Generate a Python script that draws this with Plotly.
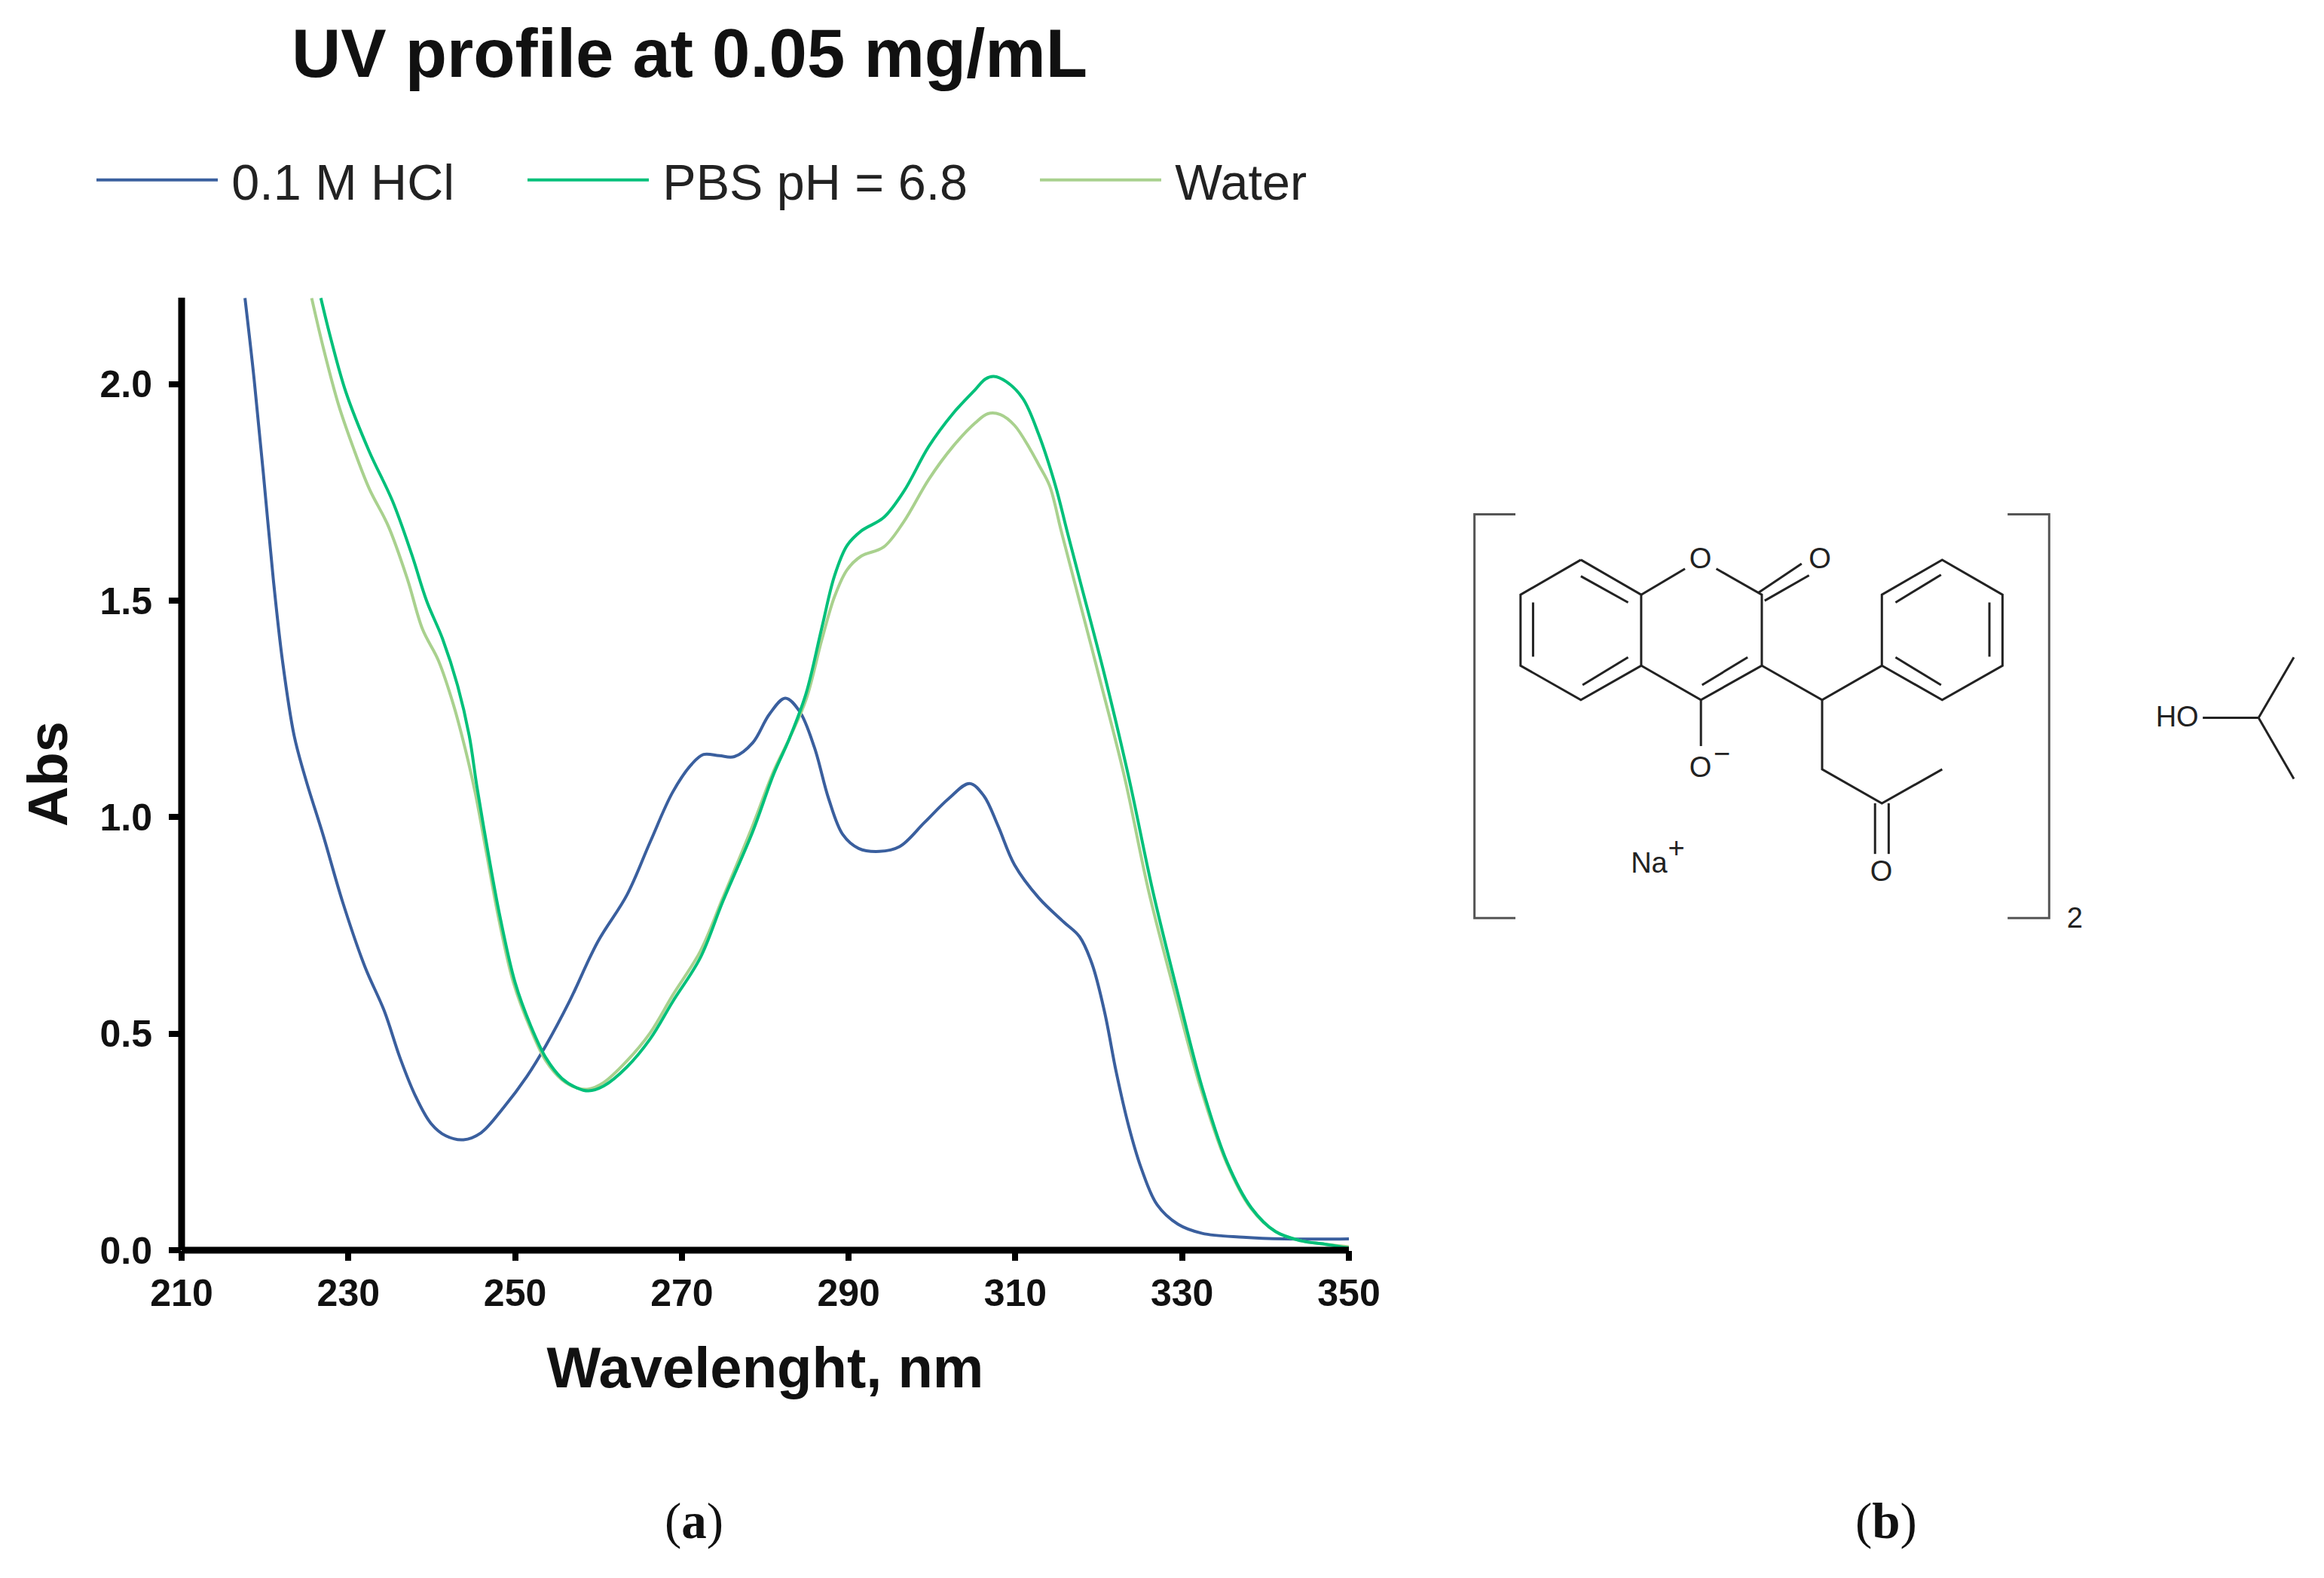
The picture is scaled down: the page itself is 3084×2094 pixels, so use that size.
import plotly.graph_objects as go

# ---------- spectra ----------
hcl_nm = [217.6,218.7,219.8,221.0,222.1,223.5,224.9,227.0,229.3,232.0,234.3,236.2,238.0,239.9,241.7,243.8,245.9,248.6,251.4,253.7,256.5,259.9,263.4,266.2,268.9,271.2,272.6,274.5,276.3,278.5,280.5,282.4,284.1,285.9,287.6,289.3,291.2,293.7,296.1,299.1,302.0,304.5,306.2,307.9,309.9,312.8,315.8,317.7,319.2,320.7,322.1,323.6,325.1,327.0,329.5,332.4,337.3,342.2,350.0]
hcl_abs = [2.199,2.011,1.795,1.549,1.361,1.188,1.087,0.957,0.805,0.654,0.553,0.444,0.358,0.293,0.264,0.255,0.271,0.329,0.401,0.473,0.574,0.712,0.820,0.943,1.058,1.123,1.145,1.142,1.140,1.172,1.238,1.275,1.245,1.161,1.043,0.960,0.928,0.921,0.932,0.988,1.043,1.078,1.050,0.981,0.890,0.814,0.758,0.724,0.661,0.550,0.411,0.286,0.189,0.105,0.060,0.039,0.030,0.026,0.026]

pbs_nm = [226.7,227.9,229.7,232.5,235.3,237.6,239.4,241.3,243.1,244.5,245.4,246.8,248.2,250.0,251.9,253.7,255.6,257.4,258.8,260.6,263.4,266.2,268.9,272.2,274.9,278.5,281.0,282.9,284.9,286.8,288.3,289.8,291.5,294.2,296.6,299.6,302.5,305.2,306.4,307.4,308.9,310.9,312.8,314.8,316.2,317.7,320.7,323.6,326.5,329.5,332.4,335.4,338.3,341.2,344.2,347.1,350.0]
pbs_abs = [2.199,2.105,1.982,1.845,1.730,1.607,1.499,1.412,1.304,1.188,1.073,0.914,0.769,0.618,0.517,0.444,0.397,0.375,0.368,0.379,0.423,0.488,0.574,0.675,0.805,0.967,1.099,1.182,1.286,1.439,1.557,1.627,1.661,1.692,1.752,1.856,1.932,1.988,2.012,2.018,2.006,1.967,1.884,1.766,1.661,1.550,1.328,1.092,0.828,0.592,0.376,0.203,0.098,0.043,0.022,0.014,0.005]

water_nm = [225.6,227.0,228.8,230.6,232.5,234.8,237.1,238.9,240.8,242.6,244.0,245.2,246.6,248.0,249.8,251.9,253.7,255.6,257.4,258.8,260.6,263.4,266.2,268.9,272.2,274.9,278.5,281.0,282.9,284.9,286.8,288.3,289.8,291.5,294.2,296.6,299.6,302.5,305.2,306.7,308.2,309.9,311.8,312.8,314.1,315.5,317.0,320.0,323.1,326.0,329.15,332.2,335.3,338.2,341.2,344.2,347.1,350.0]
water_abs = [2.199,2.084,1.954,1.853,1.759,1.672,1.549,1.434,1.362,1.260,1.159,1.058,0.914,0.769,0.618,0.509,0.437,0.394,0.375,0.372,0.387,0.437,0.502,0.589,0.690,0.813,0.981,1.106,1.182,1.272,1.411,1.509,1.571,1.603,1.624,1.682,1.780,1.856,1.911,1.932,1.930,1.905,1.849,1.814,1.766,1.661,1.550,1.328,1.092,0.828,0.592,0.376,0.203,0.098,0.043,0.022,0.014,0.008]

x_ticks = [210,230,250,270,290,310,330,350]
y_ticks = [0.0,0.5,1.0,1.5,2.0]

# ---------- panel (b) structure, page pixels ----------
def P(x, y):
    return (1900 + x * 0.7551, 650 + y * 0.3954)

bonds = [
    [(262,235),(368,352),(368,590),(262,705),(156,590),(156,352),(262,235)],
    [(262,290),(345,378)], [(178,378),(178,560)], [(265,655),(345,562)],
    [(368,352),(445,265)], [(500,265),(580,352),(580,590),(473,705),(368,590)],
    [(475,655),(555,562)],
    [(574,345),(650,248)], [(585,372),(663,287)],
    [(580,590),(686,705),(791,590),(791,352),(897,235),(1003,352),(1003,590),(897,705),(791,590)],
    [(815,378),(895,285)], [(980,378),(980,560)], [(815,562),(895,655)],
    [(686,705),(686,938),(791,1052),(897,938)],
    [(779,1052),(779,1222)], [(803,1052),(803,1222)],
    [(473,705),(473,860)],
    [(1355,765),(1453,765),(1515,562)], [(1453,765),(1515,970)],
]
brackets = [
    [(147,82),(75,82),(75,1437),(147,1437)],
    [(1012,82),(1085,82),(1085,1437),(1012,1437)],
]
atom_labels = ["O","O","O","\u2212","O","Na","+","2","HO"]
atom_x = [472,682,472,510,790,382,430,1130,1310]
atom_y = [240,240,940,895,1288,1260,1210,1445,770]

def flatten(paths):
    xs, ys = [], []
    for path in paths:
        for a, b in path:
            px, py = P(a, b)
            xs.append(px); ys.append(py)
        xs.append(None); ys.append(None)
    return xs, ys

fig = go.Figure()
C_HCL, C_PBS, C_WATER = "#3A5F9E", "#00C07A", "#A9D18E"
LINE_W = 4
SPL = dict(width=LINE_W, shape="spline", smoothing=1.0)
fig.add_trace(go.Scatter(x=hcl_nm, y=hcl_abs, mode="lines", name="\u20090.1 M HCl", legend="legend",
                         line=dict(color=C_HCL, **SPL)))
fig.add_trace(go.Scatter(x=water_nm, y=water_abs, mode="lines", name="\u2009Water", legend="legend3",
                         line=dict(color=C_WATER, **SPL)))
fig.add_trace(go.Scatter(x=pbs_nm, y=pbs_abs, mode="lines", name="\u2009PBS pH = 6.8", legend="legend2",
                         line=dict(color=C_PBS, **SPL)))

bx, by = flatten(bonds)
fig.add_trace(go.Scatter(x=bx, y=by, xaxis="x2", yaxis="y2", mode="lines", showlegend=False, hoverinfo="skip",
                         line=dict(color="#222222", width=3)))
kx, ky = flatten(brackets)
fig.add_trace(go.Scatter(x=kx, y=ky, xaxis="x2", yaxis="y2", mode="lines", showlegend=False, hoverinfo="skip",
                         line=dict(color="#555555", width=3)))
ax_pts = [P(a, b) for a, b in zip(atom_x, atom_y)]
fig.add_trace(go.Scatter(x=[p[0] for p in ax_pts], y=[p[1] for p in ax_pts], xaxis="x2", yaxis="y2",
                         mode="text", text=atom_labels, showlegend=False, hoverinfo="skip",
                         textposition="middle center",
                         textfont=dict(family="Liberation Sans", size=38, color="#222222")))

W, H = 3084, 2094
L, R, T, B = 241, 1790, 395, 1659
AX = dict(family="Liberation Sans", size=50, color="#111111", weight="bold")

legend_common = dict(orientation="h", yanchor="middle", y=1 - 239 / H, xanchor="left", itemwidth=161,
                     bgcolor="rgba(0,0,0,0)", font=dict(family="Liberation Sans", size=66.5, color="#222222"),
                     itemclick=False, itemdoubleclick=False)

fig.update_layout(
    width=W, height=H, autosize=False, margin=dict(l=0, r=0, t=0, b=0),
    paper_bgcolor="white", plot_bgcolor="rgba(0,0,0,0)",
    title=dict(text="<b>UV profile at 0.05 mg/mL</b>", x=915 / W, xanchor="center", xref="paper",
               y=1 - 70 / H, yanchor="middle", yref="paper",
               font=dict(family="Liberation Sans", size=90.5, color="#111111")),
    legend=dict(x=(127 - 4) / W, **legend_common),
    legend2=dict(x=(699 - 4) / W, **legend_common),
    legend3=dict(x=(1379 - 4) / W, **legend_common),
    xaxis=dict(domain=[L / W, R / W], range=[210, 350], tickvals=x_ticks, ticks="outside", ticklen=13, tickwidth=8,
               tickcolor="black", showline=False, showgrid=False, zeroline=False, tickfont=AX, ticklabelstandoff=0,
               automargin=False,
               title=dict(text="<b>Wavelenght, nm</b>", standoff=44,
                          font=dict(family="Liberation Sans", size=76, color="#111111"))),
    yaxis=dict(domain=[1 - B / H, 1 - T / H], range=[0, 2.2], tickvals=y_ticks, tickformat=".1f", ticks="outside",
               ticklen=16, tickwidth=8, tickcolor="black", showline=False, showgrid=False, zeroline=False,
               tickfont=AX, ticklabelstandoff=12, automargin=False,
               title=dict(text="<b>Abs</b>", standoff=18,
                          font=dict(family="Liberation Sans", size=74, color="#111111"))),
    xaxis2=dict(domain=[0, 1], range=[0, W], visible=False, anchor="y2", fixedrange=True, automargin=False),
    yaxis2=dict(domain=[0, 1], range=[H, 0], visible=False, anchor="x2", fixedrange=True, automargin=False),
    shapes=[
        dict(type="line", xref="x domain", yref="y domain", x0=0, x1=0, y0=0, y1=1,
             line=dict(color="black", width=9)),
        dict(type="line", xref="x domain", yref="y domain", x0=0, x1=1, y0=0, y1=0,
             line=dict(color="black", width=9)),
    ],
    annotations=[
        dict(text="(<b>a</b>)", x=921 / W, y=1 - 2018 / H, xref="paper", yref="paper", showarrow=False,
             xanchor="center", yanchor="middle",
             font=dict(family="Liberation Serif", size=67, color="#111111")),
        dict(text="(<b>b</b>)", x=2503 / W, y=1 - 2018 / H, xref="paper", yref="paper", showarrow=False,
             xanchor="center", yanchor="middle",
             font=dict(family="Liberation Serif", size=67, color="#111111")),
    ],
)
fig.write_html("out.html", config={"displayModeBar": False}, post_script="document.body.style.margin='0';")
